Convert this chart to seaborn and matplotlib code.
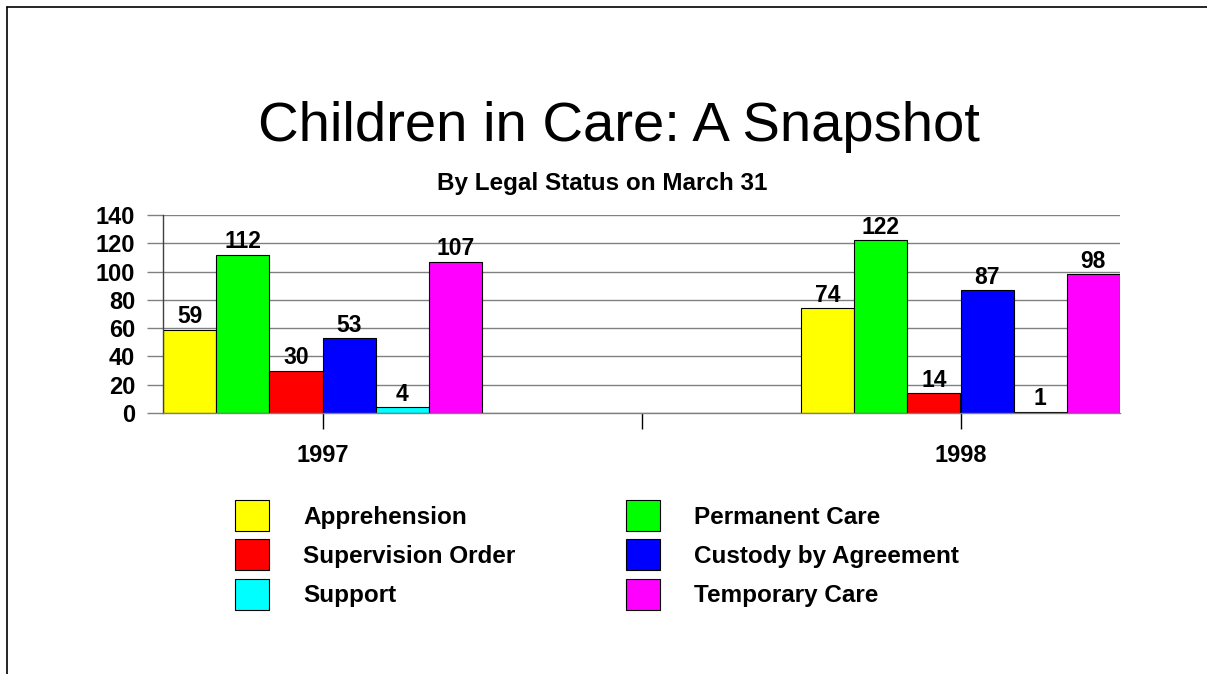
import matplotlib
matplotlib.use("Agg")
import matplotlib.pyplot as plt
import seaborn as sns
import pandas as pd
from matplotlib.patches import Patch
from matplotlib.lines import Line2D

# ---- data ----
years = ["1997", "1998"]
statuses = ["Apprehension", "Permanent Care", "Supervision Order",
            "Custody by Agreement", "Support", "Temporary Care"]
counts_1997 = [59, 112, 30, 53, 4, 107]
counts_1998 = [74, 122, 14, 87, 1, 98]
y_ticks = [0, 20, 40, 60, 80, 100, 120, 140]
colors = ["#FFFF00", "#00FF00", "#FF0000", "#0000FF", "#00FFFF", "#FF00FF"]
title = "Children in Care: A Snapshot"
subtitle = "By Legal Status on March 31"

df = pd.DataFrame({
    "Year": [y for y in years for _ in statuses],
    "Status": statuses * len(years),
    "Count": counts_1997 + counts_1998,
})

sns.set_style("white")
plt.rcParams["font.family"] = ["Liberation Sans", "DejaVu Sans"]
plt.rcParams["text.color"] = "black"
plt.rcParams["xtick.color"] = "black"
plt.rcParams["ytick.color"] = "black"
plt.rcParams["axes.labelcolor"] = "black"

W, H = 1207, 674
fig = plt.figure(figsize=(W / 100, H / 100), dpi=100)
ax = fig.add_axes([163 / W, 1 - 413 / H, (1120 - 163) / W, (413 - 215) / H])

sns.barplot(data=df, x="Year", y="Count", hue="Status", hue_order=statuses,
            palette=colors, width=0.5, edgecolor="black", linewidth=0.8,
            saturation=1, gap=0, legend=False, errorbar=None, ax=ax)

ax.set_xlim(-0.25, 1.25)
ax.set_ylim(0, 140)
ax.set_yticks(y_ticks)
ax.set_yticklabels([str(t) for t in y_ticks])
ax.set_xticks([0, 0.5, 1])
ax.set_xticklabels([years[0], "", years[1]])
ax.set_xlabel("")
ax.set_ylabel("")

ax.yaxis.grid(True, color="#808080", lw=1.0)
ax.xaxis.grid(False)
ax.set_axisbelow(True)
for s in ["top", "right"]:
    ax.spines[s].set_visible(False)
ax.spines["left"].set_color("#404040")
ax.spines["left"].set_linewidth(1.0)
ax.spines["bottom"].set_color("#808080")
ax.spines["bottom"].set_linewidth(1.0)

ax.tick_params(axis="y", which="both", left=True, length=11.5, width=1.0,
               color="#808080", labelcolor="black", pad=8.6, labelsize=17)
ax.tick_params(axis="x", which="both", bottom=True, length=11.5, width=1.0,
               color="black", labelcolor="black", pad=11, labelsize=17,
               direction="out")
for lab in ax.get_xticklabels() + ax.get_yticklabels():
    lab.set_fontweight("bold")

for c in ax.containers:
    ax.bar_label(c, padding=1, fontsize=16.5, fontweight="bold", color="black")

# legend
handles = [Patch(facecolor=col, edgecolor="black", lw=0.8, label=s)
           for s, col in zip(statuses, colors)]
order = [0, 2, 4, 1, 3, 5]
leg = fig.legend(handles=[handles[i] for i in order], ncol=2, loc="upper left",
                 bbox_to_anchor=(235 / W, 1 - 500 / H), frameon=False,
                 prop={"size": 17.5, "weight": "bold"},
                 handlelength=1.4, handleheight=1.6, handletextpad=1.4,
                 labelspacing=0.33, columnspacing=4.57, borderpad=0,
                 borderaxespad=0)
for t in leg.get_texts():
    t.set_color("black")

fig.text(618.5 / W, 1 - 141 / H, title, ha="center", va="baseline",
         fontsize=40.5, color="black")
fig.text(602.5 / W, 1 - 190 / H, subtitle, ha="center", va="baseline",
         fontsize=17.5, fontweight="bold", color="black")

# outer frame lines
fig.add_artist(Line2D([7 / W, 1], [1 - 7 / H, 1 - 7 / H], transform=fig.transFigure,
                      color="black", lw=1.2))
fig.add_artist(Line2D([7 / W, 7 / W], [0, 1 - 7 / H], transform=fig.transFigure,
                      color="black", lw=1.2))

fig.savefig("out.png", dpi=100)
